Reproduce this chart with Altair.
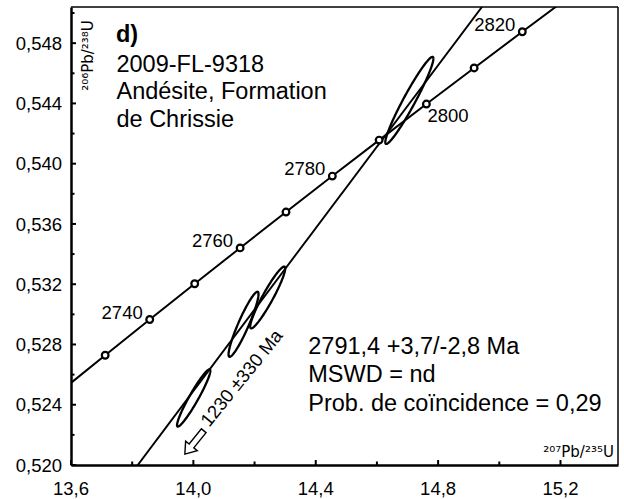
import numpy as np
import pandas as pd
import altair as alt

FONT = "Liberation Sans"

# ---------------- data ----------------
# Concordia curve (age in Ma, 207Pb/235U, 206Pb/238U)
conc_age = [2720, 2730, 2740, 2750, 2760, 2770, 2780, 2790, 2800, 2810, 2820, 2830]
conc_x = [13.5675, 13.7117, 13.8573, 14.0043, 14.1528, 14.3028, 14.4542,
          14.6072, 14.7617, 14.9177, 15.0752, 15.2343]
conc_y = [0.524917, 0.527285, 0.529657, 0.532031, 0.534409, 0.536790,
          0.539177, 0.541566, 0.543958, 0.546355, 0.548757, 0.551161]

# Concordia age markers
marker_age = [2730, 2740, 2750, 2760, 2770, 2780, 2790, 2800, 2810, 2820]
marker_x = [13.7117, 13.8573, 14.0043, 14.1528, 14.3028, 14.4542, 14.6072,
            14.7617, 14.9177, 15.0752]
marker_y = [0.527285, 0.529657, 0.532031, 0.534409, 0.536790, 0.539177,
            0.541566, 0.543958, 0.546355, 0.548757]

# Age labels (left of marker) and the one below its marker
label_age = ["2740", "2760", "2780", "2820"]
label_x = [13.8573, 14.1528, 14.4542, 15.0752]
label_y = [0.529657, 0.534409, 0.539177, 0.548757]
label2_age = ["2800"]
label2_x = [14.7617]
label2_y = [0.543958]

# Discordia line (through 2791.4 Ma and 1230 Ma intercepts)
disc_x = [13.70, 15.10]
disc_y = [0.51680, 0.55464]

# Error ellipses: centre, half-extents, correlation
ell_id = ["a", "b", "c", "d"]
ell_cx = [14.001, 14.164, 14.243, 14.706]
ell_cy = [0.52445, 0.52934, 0.53112, 0.54420]
ell_sx = [0.0544, 0.0490, 0.0572, 0.0786]
ell_sy = [0.00190, 0.00216, 0.00205, 0.00289]
ell_rho = [0.950, 0.925, 0.940, 0.960]

# Axis ticks and tick labels
x_major = [13.6, 14.0, 14.4, 14.8, 15.2]
x_labels = ["13,6", "14,0", "14,4", "14,8", "15,2"]
x_minor = [13.8, 14.2, 14.6, 15.0]
y_major = [0.520, 0.524, 0.528, 0.532, 0.536, 0.540, 0.544, 0.548]
y_labels = ["0,520", "0,524", "0,528", "0,532", "0,536", "0,540", "0,544", "0,548"]
y_minor = [0.522, 0.526, 0.530, 0.534, 0.538, 0.542, 0.546, 0.550]

X_DOMAIN = [13.6, 15.388]
Y_DOMAIN = [0.520, 0.5504]

# ---------------- tables ----------------
conc_df = pd.DataFrame({"age": conc_age, "x": conc_x, "y": conc_y})
marker_df = pd.DataFrame({"age": marker_age, "x": marker_x, "y": marker_y})
label_df = pd.DataFrame({"t": label_age, "x": label_x, "y": label_y})
label2_df = pd.DataFrame({"t": label2_age, "x": label2_x, "y": label2_y})
disc_df = pd.DataFrame({"x": disc_x, "y": disc_y})

theta = np.linspace(0, 2 * np.pi, 161)
rows = []
for i, cx, cy, sx, sy, r in zip(ell_id, ell_cx, ell_cy, ell_sx, ell_sy, ell_rho):
    ex = cx + sx * np.cos(theta)
    ey = cy + sy * (r * np.cos(theta) + np.sqrt(1 - r * r) * np.sin(theta))
    for k, (a, b) in enumerate(zip(ex, ey)):
        rows.append({"id": i, "k": k, "x": a, "y": b})
ell_df = pd.DataFrame(rows)

xs = alt.Scale(domain=X_DOMAIN, nice=False, zero=False)
ys = alt.Scale(domain=Y_DOMAIN, nice=False, zero=False)

x_axis = alt.Axis(title=None, ticks=False, grid=False, labels=False,
                  domain=True, domainColor="black", domainWidth=2.5)
y_axis = alt.Axis(title=None, ticks=False, grid=False, labels=False,
                  domain=True, domainColor="black", domainWidth=2.5)

def X():
    return alt.X("x:Q", scale=xs, axis=x_axis)

def Y():
    return alt.Y("y:Q", scale=ys, axis=y_axis)

conc = alt.Chart(conc_df).mark_line(color="black", strokeWidth=2, clip=True).encode(
    x=X(), y=Y(), order="age:Q")
disc = alt.Chart(disc_df).mark_line(color="black", strokeWidth=1.9, clip=True).encode(
    x=X(), y=Y())
ell = alt.Chart(ell_df).mark_line(color="black", strokeWidth=2.3).encode(
    x=X(), y=Y(), detail="id:N", order="k:Q")
pts = alt.Chart(marker_df).mark_point(shape="circle", filled=True, fill="white",
                                       stroke="black", strokeWidth=2.2, size=45,
                                       opacity=1).encode(x=X(), y=Y())
lab = alt.Chart(label_df).mark_text(font=FONT, fontSize=18.5, align="right",
                                     baseline="alphabetic", dx=-7, dy=-1,
                                     color="black").encode(x=X(), y=Y(), text="t:N")
lab2 = alt.Chart(label2_df).mark_text(font=FONT, fontSize=18.5, align="left",
                                       baseline="alphabetic", dx=1, dy=18,
                                       color="black").encode(x=X(), y=Y(), text="t:N")

# Lower-intercept label and arrow
disc_lab_df = pd.DataFrame({"x": [14.158], "y": [0.52577], "t": ["1230 ±330 Ma"]})
disc_lab = alt.Chart(disc_lab_df).mark_text(font=FONT, fontSize=18.5, angle=309,
                                             align="center", baseline="middle",
                                             color="black").encode(x=X(), y=Y(), text="t:N")
arrow_path = "M -1 0 L -0.3 -0.5 L -0.3 -0.2 L 1 -0.2 L 1 0.2 L -0.3 0.2 L -0.3 0.5 Z"
arrow_df = pd.DataFrame({"x": [14.003], "y": [0.52150]})
arrow = alt.Chart(arrow_df).mark_point(shape=arrow_path, filled=True, fill="white",
                                        stroke="black", strokeWidth=1.4, size=900,
                                        angle=309, opacity=1).encode(x=X(), y=Y())

# Annotations
panel_df = pd.DataFrame({"x": [13.7469], "y": [0.54809], "t": ["d)"]})
panel = alt.Chart(panel_df).mark_text(font=FONT, fontSize=23.5, fontWeight="bold",
                                       align="left", baseline="alphabetic",
                                       color="black").encode(x=X(), y=Y(), text="t:N")
sample_df = pd.DataFrame({"x": [13.7486], "y": [0.546096],
                          "t": ["2009-FL-9318\nAndésite, Formation\nde Chrissie"]})
sample = alt.Chart(sample_df).mark_text(font=FONT, fontSize=23.5, align="left",
                                         baseline="alphabetic", lineBreak="\n",
                                         lineHeight=27.5, color="black").encode(
    x=X(), y=Y(), text="t:N")
result_df = pd.DataFrame({"x": [14.3755], "y": [0.527363],
                          "t": ["2791,4 +3,7/-2,8 Ma\nMSWD = nd\nProb. de coïncidence = 0,29"]})
result = alt.Chart(result_df).mark_text(font=FONT, fontSize=23.5, align="left",
                                         baseline="alphabetic", lineBreak="\n",
                                         lineHeight=28.3, color="black").encode(
    x=X(), y=Y(), text="t:N")

TFONT = "DejaVu Sans"
ytitle_df = pd.DataFrame({"x": [13.6718], "y": [0.549526], "t": ["²⁰⁶Pb/²³⁸U"]})
ytitle = alt.Chart(ytitle_df).mark_text(font=TFONT, fontSize=15, angle=270,
                                         align="right", baseline="alphabetic",
                                         color="black").encode(x=X(), y=Y(), text="t:N")
xtitle_df = pd.DataFrame({"x": [15.3747], "y": [0.52055], "t": ["²⁰⁷Pb/²³⁵U"]})
xtitle = alt.Chart(xtitle_df).mark_text(font=TFONT, fontSize=15, align="right",
                                         baseline="alphabetic",
                                         color="black").encode(x=X(), y=Y(), text="t:N")

W = 547
H = 458

# Tick labels
xlab = alt.Chart(pd.DataFrame({"x": x_major, "t": x_labels})).mark_text(
    font=FONT, fontSize=18.5, align="center", baseline="alphabetic", color="black"
).encode(x=X(), y=alt.value(H + 30), text="t:N")
ylab = alt.Chart(pd.DataFrame({"y": y_major, "t": y_labels})).mark_text(
    font=FONT, fontSize=18.5, align="right", baseline="alphabetic", dy=6.6, color="black"
).encode(y=Y(), x=alt.value(-9), text="t:N")

# Inward tick marks
xmaj = alt.Chart(pd.DataFrame({"x": x_major})).mark_rule(color="black", strokeWidth=2).encode(
    x=X(), y=alt.value(H), y2=alt.value(H - 5))
xmin = alt.Chart(pd.DataFrame({"x": x_minor})).mark_rule(color="black", strokeWidth=2).encode(
    x=X(), y=alt.value(H), y2=alt.value(H - 3.5))
ymaj = alt.Chart(pd.DataFrame({"y": y_major})).mark_rule(color="black", strokeWidth=2).encode(
    y=Y(), x=alt.value(0), x2=alt.value(5))
ymin = alt.Chart(pd.DataFrame({"y": y_minor})).mark_rule(color="black", strokeWidth=2).encode(
    y=Y(), x=alt.value(0), x2=alt.value(3.5))

# Frame: top and right edges
frame_df = pd.DataFrame({"edge": ["top", "right"]})
frame_top = alt.Chart(frame_df.iloc[:1]).mark_rule(color="black", strokeWidth=1.5).encode(
    x=alt.value(0), x2=alt.value(W), y=alt.value(0))
frame_right = alt.Chart(frame_df.iloc[1:]).mark_rule(color="black", strokeWidth=1.5).encode(
    x=alt.value(W), y=alt.value(0), y2=alt.value(H))

chart = alt.layer(
    conc, disc, ell, pts, lab, lab2, disc_lab, arrow, panel, sample, result,
    ytitle, xtitle, xlab, ylab, xmaj, xmin, ymaj, ymin, frame_top, frame_right
).properties(
    width=W, height=H,
    padding={"left": 71, "top": 7, "right": 6, "bottom": 34},
    autosize=alt.AutoSizeParams(type="none"),
    background="white",
).configure_view(
    stroke=None
)

chart.save("out.html", embed_options={"renderer": "svg", "actions": False})
